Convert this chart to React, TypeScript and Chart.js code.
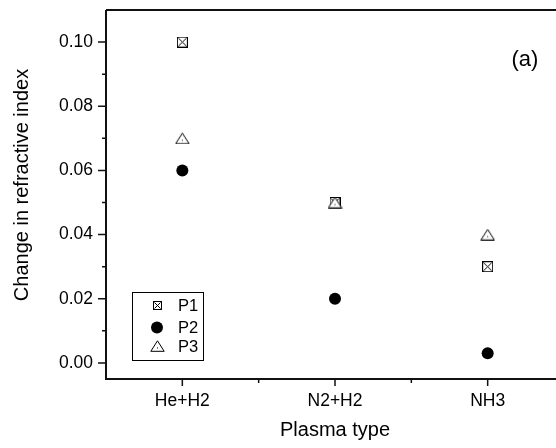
import { useEffect, useRef } from "react";
import { Chart, registerables } from "chart.js";
Chart.register(...registerables);

const categories = ["He+H2", "N2+H2", "NH3"];
const seriesNames = ["P1", "P2", "P3"];
const p1Values = [0.1, 0.05, 0.03];
const p2Values = [0.06, 0.02, 0.003];
const p3Values = [0.07, 0.05, 0.04];
const yTickValues = [0, 0.02, 0.04, 0.06, 0.08, 0.1];
const yMinorTickValues = [0.01, 0.03, 0.05, 0.07, 0.09];
const xMinorTickValues = [1.5, 2.5, 3.5];
const xTitle = "Plasma type";
const yTitle = "Change in refractive index";
const panelLabel = "(a)";

const FONT = "'Liberation Sans', Arial, Helvetica, sans-serif";

function makeBoxCross(size: number): HTMLCanvasElement {
  const c = document.createElement("canvas");
  c.width = size;
  c.height = size;
  const g = c.getContext("2d")!;
  g.fillStyle = "#fff";
  g.fillRect(0, 0, size, size);
  g.strokeStyle = "#000";
  g.lineWidth = 1;
  g.strokeRect(0.5, 0.5, size - 1, size - 1);
  g.beginPath();
  g.moveTo(1.5, 1.5);
  g.lineTo(size - 1.5, size - 1.5);
  g.moveTo(size - 1.5, 1.5);
  g.lineTo(1.5, size - 1.5);
  g.stroke();
  return c;
}

function makeTriangle(): HTMLCanvasElement {
  const c = document.createElement("canvas");
  c.width = 15;
  c.height = 12;
  const g = c.getContext("2d")!;
  g.fillStyle = "#fff";
  g.strokeStyle = "#000";
  g.lineWidth = 1;
  g.beginPath();
  g.moveTo(7.5, 0.8);
  g.lineTo(14.2, 11.3);
  g.lineTo(0.8, 11.3);
  g.closePath();
  g.fill();
  g.stroke();
  g.fillStyle = "#000";
  g.fillRect(7, 7.5, 1, 1);
  return c;
}

export default function App() {
  const ref = useRef<HTMLCanvasElement>(null);
  useEffect(() => {
    if (!ref.current) return;
    const boxCross = makeBoxCross(11);
    const legendBox = makeBoxCross(9);
    const triangle = makeTriangle();
    const toPts = (arr: number[]) => categories.map((_, i) => ({ x: i + 1, y: arr[i] }));

    const axesPlugin = {
      id: "axesFrame",
      beforeDraw(chart: any) {
        const ctx = chart.ctx as CanvasRenderingContext2D;
        ctx.save();
        ctx.fillStyle = "#fff";
        ctx.fillRect(0, 0, chart.width, chart.height);
        ctx.restore();
      },
      afterDraw(chart: any) {
        const ctx = chart.ctx as CanvasRenderingContext2D;
        const ca = chart.chartArea;
        const xs = chart.scales.x;
        const ys = chart.scales.y;
        ctx.save();
        ctx.strokeStyle = "#111";
        ctx.lineWidth = 2;
        ctx.beginPath();
        ctx.moveTo(ca.left, ca.top);
        ctx.lineTo(ca.left, ca.bottom);
        ctx.lineTo(ca.right, ca.bottom);
        ctx.lineTo(ca.right, ca.top);
        ctx.lineTo(ca.left, ca.top);
        ctx.stroke();
        ctx.lineWidth = 1.5;
        ctx.beginPath();
        for (const v of yTickValues) {
          const y = ys.getPixelForValue(v);
          ctx.moveTo(ca.left - 8, y);
          ctx.lineTo(ca.left, y);
        }
        for (const v of yMinorTickValues) {
          const y = ys.getPixelForValue(v);
          ctx.moveTo(ca.left - 4, y);
          ctx.lineTo(ca.left, y);
        }
        categories.forEach((_, i) => {
          const x = xs.getPixelForValue(i + 1);
          ctx.moveTo(x, ca.bottom);
          ctx.lineTo(x, ca.bottom + 7);
        });
        for (const v of xMinorTickValues) {
          const x = xs.getPixelForValue(v);
          ctx.moveTo(x, ca.bottom);
          ctx.lineTo(x, ca.bottom + 4);
        }
        ctx.stroke();

        // y axis title
        ctx.fillStyle = "#000";
        ctx.save();
        ctx.translate(22, ca.top + 175);
        ctx.rotate(-Math.PI / 2);
        ctx.font = `20px ${FONT}`;
        ctx.textAlign = "center";
        ctx.textBaseline = "middle";
        ctx.fillText(yTitle, 0, 0);
        ctx.restore();

        // panel label
        ctx.font = `22px ${FONT}`;
        ctx.textAlign = "left";
        ctx.textBaseline = "middle";
        ctx.fillText(panelLabel, ca.left + 405.5, ca.top + 50);

        // legend
        const lx = ca.left + 26;
        const ly = ca.bottom - 86.6;
        ctx.lineWidth = 1;
        ctx.strokeStyle = "#000";
        ctx.strokeRect(Math.round(lx) + 0.5, Math.round(ly) + 0.5, 71, 68);
        const mx = lx + 25;
        const rows = [ly + 13, ly + 35, ly + 54];
        ctx.drawImage(legendBox, Math.round(mx - 4.5), Math.round(rows[0] - 4.5));
        ctx.beginPath();
        ctx.arc(mx, rows[1], 6, 0, Math.PI * 2);
        ctx.fillStyle = "#000";
        ctx.fill();
        ctx.drawImage(triangle, Math.round(mx - 7.5), Math.round(rows[2] - 6));
        ctx.font = `16.5px ${FONT}`;
        ctx.textBaseline = "middle";
        seriesNames.forEach((n, i) => {
          ctx.fillText(n, lx + 46, rows[i] + 1);
        });
        ctx.restore();
      },
    };

    const chart = new Chart(ref.current, {
      type: "scatter",
      data: {
        datasets: [
          {
            label: seriesNames[0],
            data: toPts(p1Values),
            pointStyle: boxCross as any,
            order: 3,
          },
          {
            label: seriesNames[1],
            data: toPts(p2Values),
            pointStyle: "circle",
            pointRadius: 6,
            backgroundColor: "#000",
            borderColor: "#000",
            borderWidth: 0,
            order: 2,
          },
          {
            label: seriesNames[2],
            data: toPts(p3Values),
            pointStyle: triangle as any,
            order: 1,
          },
        ],
      },
      options: {
        animation: false,
        responsive: false,
        maintainAspectRatio: false,
        devicePixelRatio: 1,
        layout: { autoPadding: false, padding: { top: 10, right: 0, left: 0, bottom: 0 } },
        plugins: { legend: { display: false }, tooltip: { enabled: false } },
        scales: {
          x: {
            type: "linear",
            min: 0.5,
            max: 3.5,
            grid: { display: false, drawTicks: true, tickLength: 7 },
            border: { display: false },
            afterBuildTicks: (s: any) => {
              s.ticks = categories.map((_, i) => ({ value: i + 1 }));
            },
            afterFit: (s: any) => {
              s.height = 69;
              s.paddingLeft = 0;
              s.paddingRight = 0;
            },
            ticks: {
              padding: 5,
              color: "#000",
              font: { family: FONT, size: 17.5 },
              maxRotation: 0,
              autoSkip: false,
              callback: (v: any) => categories[Math.round(Number(v)) - 1] ?? "",
            },
            title: {
              display: true,
              text: xTitle,
              color: "#000",
              font: { family: FONT, size: 20 },
              padding: { top: 0, bottom: 6 },
            },
          },
          y: {
            type: "linear",
            min: -0.005,
            max: 0.11,
            grid: { display: false, drawTicks: true, tickLength: 8 },
            border: { display: false },
            afterBuildTicks: (s: any) => {
              s.ticks = yTickValues.map((v) => ({ value: v }));
            },
            afterFit: (s: any) => {
              s.width = 106;
              s.paddingTop = 0;
              s.paddingBottom = 0;
            },
            ticks: {
              padding: 5,
              color: "#000",
              font: { family: FONT, size: 17.5 },
              callback: (v: any) => Number(v).toFixed(2),
            },
            title: { display: false },
          },
        },
      },
      plugins: [axesPlugin],
    });
    return () => chart.destroy();
  }, []);

  return (
    <div style={{ position: "absolute", left: 0, top: 0, width: 556, height: 448, overflow: "hidden", background: "#fff" }}>
      <canvas ref={ref} width={564} height={448} style={{ display: "block" }} />
    </div>
  );
}
